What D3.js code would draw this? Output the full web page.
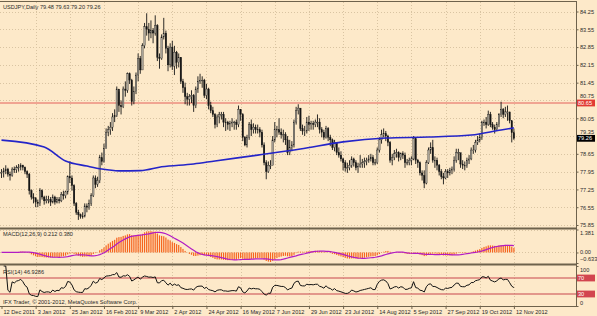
<!DOCTYPE html>
<html lang="en">
<head>
<meta charset="UTF-8">
<title>USDJPY Daily</title>
<style>
  * { margin: 0; padding: 0; }
  body { background: #fde9c9; }
  svg text { font-family: "Liberation Sans", Arial, sans-serif; }
</style>
</head>
<body>
<div id="chart"></div>
<script src="https://cdn.jsdelivr.net/npm/d3@7/dist/d3.min.js"></script>
<script>
  // ---- data ----
  const dateLabels = ['12 Dec 2011', '3 Jan 2012', '25 Jan 2012', '16 Feb 2012', '9 Mar 2012', '2 Apr 2012',
    '24 Apr 2012', '16 May 2012', '7 Jun 2012', '29 Jun 2012', '23 Jul 2012', '14 Aug 2012',
    '5 Sep 2012', '27 Sep 2012', '19 Oct 2012', '12 Nov 2012']
  const labelBars = [0, 16, 32, 48, 64, 80, 96, 112, 128, 144, 160, 176, 192, 208, 224, 240]

  const firstOpen = 77.90
  const closes = [
    77.92, 77.98, 78.05, 77.85, 77.80, 78.05, 78.02, 78.10, 78.13, 78.20, 78.12, 77.95, 77.85, 77.20, 76.95,
    76.90, 76.75, 76.70, 77.20, 76.95, 76.80, 76.85, 76.85, 76.75, 76.95, 76.75, 76.85, 76.80, 77.05, 77.00,
    77.15, 77.75, 77.70, 77.40, 76.70, 76.35, 76.25, 76.20, 76.20, 76.60, 76.55, 76.70, 77.00, 77.70, 77.45,
    77.60, 78.50, 78.35, 78.85, 79.50, 79.60, 79.70, 80.10, 80.15, 81.20, 80.55, 80.50, 81.20, 81.15, 81.80,
    81.55, 80.70, 81.10, 81.75, 82.40, 81.95, 82.90, 83.65, 83.55, 83.40, 83.50, 83.40, 83.70, 82.45, 82.40,
    83.25, 83.40, 82.80, 82.15, 82.85, 82.10, 82.65, 82.25, 82.45, 81.50, 81.25, 80.90, 80.80, 80.90, 80.95,
    80.55, 81.20, 81.50, 81.55, 81.55, 80.95, 81.20, 80.55, 80.35, 80.20, 79.80, 80.10, 80.20, 80.20, 79.90,
    79.90, 79.80, 79.85, 79.90, 79.90, 79.80, 80.40, 80.20, 79.30, 79.00, 79.30, 79.80, 79.60, 79.70, 79.60,
    79.60, 79.50, 79.00, 78.30, 77.95, 78.20, 78.20, 79.20, 79.60, 79.60, 79.50, 79.40, 79.40, 79.20, 78.70,
    78.90, 79.00, 79.90, 80.35, 80.45, 79.65, 79.55, 79.55, 79.90, 79.80, 79.85, 79.80, 79.90, 79.90, 79.60,
    79.50, 79.30, 79.65, 79.30, 79.20, 78.90, 79.10, 78.70, 78.60, 78.45, 78.30, 78.10, 78.10, 78.20, 78.45,
    78.30, 78.10, 78.15, 78.25, 78.30, 78.35, 78.40, 78.45, 78.50, 78.30, 78.30, 78.80, 79.20, 79.40, 79.45,
    79.35, 79.10, 78.40, 78.50, 78.65, 78.70, 78.50, 78.65, 78.60, 78.30, 78.30, 78.40, 78.45, 79.25, 78.40,
    78.30, 77.90, 77.80, 77.50, 78.30, 78.80, 78.90, 78.40, 78.40, 78.20, 77.95, 77.75, 77.70, 77.95, 77.90,
    78.00, 78.05, 78.40, 78.70, 78.70, 78.25, 78.20, 78.20, 78.40, 78.45, 78.80, 78.80, 79.10, 79.20, 79.30,
    79.90, 79.90, 79.80, 80.20, 79.80, 79.70, 79.60, 79.80, 80.20, 80.40, 80.20, 80.30, 80.30, 79.95, 79.48,
    79.26]
  const highs = [
    78.05, 78.10, 78.20, 78.10, 77.95, 78.12, 78.15, 78.20, 78.25, 78.28, 78.22, 78.15, 78.00, 77.90, 77.25,
    77.10, 76.95, 76.85, 77.30, 77.25, 77.00, 77.00, 77.00, 76.95, 77.05, 77.00, 76.95, 76.95, 77.15, 77.20,
    77.20, 77.80, 78.35, 77.80, 77.45, 76.75, 76.45, 76.30, 76.35, 76.70, 76.70, 76.85, 77.10, 77.80, 77.80,
    77.75, 78.60, 78.70, 79.05, 79.65, 79.75, 79.90, 80.25, 80.40, 81.30, 81.10, 80.75, 81.30, 81.50, 81.85,
    81.85, 81.60, 81.30, 81.85, 82.60, 82.50, 83.00, 83.80, 84.18, 83.80, 83.90, 83.60, 84.10, 83.75, 82.60,
    83.35, 84.00, 83.50, 82.90, 83.00, 83.10, 82.90, 82.70, 82.60, 82.45, 81.60, 81.45, 81.05, 81.00, 81.15,
    81.00, 81.30, 81.70, 81.80, 81.70, 81.60, 81.40, 81.25, 80.70, 80.50, 80.25, 80.20, 80.30, 80.30, 80.30,
    80.05, 79.95, 79.95, 80.05, 79.95, 80.00, 80.55, 80.40, 80.25, 79.35, 79.40, 79.90, 80.00, 79.85, 79.80,
    79.80, 79.70, 79.60, 79.10, 78.40, 78.35, 78.40, 79.35, 79.90, 79.75, 80.05, 79.65, 79.60, 79.50, 79.35,
    79.20, 79.15, 80.00, 80.50, 80.60, 80.45, 79.80, 79.75, 80.10, 80.15, 79.95, 79.95, 80.00, 80.20, 80.05,
    79.70, 79.60, 79.75, 79.70, 79.40, 79.25, 79.20, 79.10, 78.90, 78.75, 78.50, 78.40, 78.30, 78.40, 78.55,
    78.50, 78.40, 78.30, 78.60, 78.45, 78.50, 78.50, 78.60, 78.65, 78.60, 78.45, 78.90, 79.30, 79.60, 79.65,
    79.55, 79.40, 79.15, 78.65, 78.80, 78.85, 78.75, 78.70, 78.75, 78.70, 78.45, 78.50, 78.55, 79.35, 79.25,
    78.45, 78.35, 78.00, 78.00, 78.40, 78.90, 79.10, 79.20, 78.55, 78.50, 78.25, 78.05, 77.90, 78.05, 78.05,
    78.10, 78.15, 78.55, 78.85, 78.85, 78.60, 78.40, 78.35, 78.50, 78.60, 78.90, 79.00, 79.20, 79.35, 79.45,
    79.95, 80.00, 80.10, 80.35, 80.30, 79.90, 79.80, 79.90, 80.25, 80.70, 80.45, 80.50, 80.55, 80.30, 79.95,
    79.63]
  const lows = [
    77.70, 77.72, 77.85, 77.75, 77.60, 77.75, 77.90, 77.90, 77.95, 78.00, 78.00, 77.85, 77.70, 77.05, 76.85,
    76.70, 76.55, 76.55, 76.60, 76.85, 76.65, 76.70, 76.70, 76.60, 76.70, 76.65, 76.70, 76.70, 76.75, 76.85,
    76.90, 77.05, 77.50, 77.20, 76.60, 76.25, 76.05, 76.10, 76.10, 76.15, 76.35, 76.45, 76.60, 76.95, 77.30,
    77.35, 77.50, 78.20, 78.30, 78.90, 79.35, 79.40, 79.55, 79.90, 80.10, 80.30, 80.20, 80.45, 80.90, 81.05,
    81.40, 80.55, 80.60, 81.00, 81.50, 81.80, 81.95, 82.80, 83.30, 83.10, 83.20, 83.00, 83.30, 82.30, 82.00,
    82.35, 83.15, 82.60, 81.90, 82.05, 81.95, 81.75, 82.00, 82.05, 81.40, 81.05, 80.60, 80.55, 80.55, 80.65,
    80.30, 80.45, 81.05, 81.40, 81.25, 80.85, 80.80, 80.40, 80.25, 80.10, 79.65, 79.70, 79.85, 80.00, 79.70,
    79.55, 79.60, 79.55, 79.70, 79.60, 79.60, 79.70, 79.95, 79.15, 78.95, 78.90, 79.20, 79.35, 79.45, 79.45,
    79.45, 79.30, 78.90, 78.20, 77.65, 77.90, 78.05, 78.20, 79.10, 79.30, 79.40, 79.25, 79.10, 79.00, 78.60,
    78.60, 78.75, 78.90, 79.80, 80.20, 79.55, 79.40, 79.35, 79.45, 79.55, 79.60, 79.60, 79.70, 79.70, 79.45,
    79.30, 79.20, 79.25, 79.15, 78.95, 78.80, 78.75, 78.60, 78.50, 78.35, 78.00, 77.95, 77.90, 78.00, 78.10,
    78.15, 78.00, 77.90, 78.10, 78.10, 78.10, 78.20, 78.30, 78.35, 78.20, 78.20, 78.25, 78.70, 79.05, 79.30,
    79.15, 78.95, 78.30, 78.20, 78.40, 78.50, 78.35, 78.40, 78.45, 78.10, 78.20, 78.20, 78.20, 78.40, 78.25,
    78.10, 77.80, 77.60, 77.30, 77.45, 78.25, 78.65, 78.30, 78.10, 78.00, 77.80, 77.65, 77.45, 77.65, 77.70,
    77.80, 77.85, 77.95, 78.30, 78.40, 78.10, 78.05, 78.00, 78.10, 78.25, 78.40, 78.65, 78.70, 79.00, 79.10,
    79.20, 79.75, 79.65, 79.75, 79.70, 79.60, 79.45, 79.55, 79.70, 80.10, 80.05, 80.10, 79.95, 79.85, 79.10,
    79.20]

  // slow moving average (blue), sampled along the curve
  const maBars = [0, 20, 30, 40, 47, 55, 65, 75, 90, 100, 120, 140, 160, 180, 200, 220, 234, 240]
  const maVals = [79.19, 78.92, 78.37, 78.17, 78.05, 77.98, 77.99, 78.14, 78.25, 78.37, 78.60, 78.84, 79.12,
    79.27, 79.31, 79.39, 79.59, 79.67]

  const priceTicks = [84.25, 83.55, 82.85, 82.15, 81.45, 80.75, 80.05, 79.35, 78.65, 77.95, 77.25, 76.55, 75.85]
  const levelPrice = 80.65
  const lastPrice = 79.26
  const macdTicks = [1.381, 0.00, -0.633]
  const rsiLevels = [70, 30]

  // ---- layout ----
  const W = 597, H = 316
  const PLOT_R = 576
  const MAIN = {TOP: 2, BOTTOM: 228}
  const MACD = {TOP: 229, BOTTOM: 264}
  const RSI = {TOP: 266, BOTTOM: 306}

  const BG = '#fde9c9', FRAME = '#6e624c', GRID = '#d9c4a2', TXT = '#2a2a2a'

  const svg = d3.select('#chart').append('svg')
    .attr('width', W).attr('height', H)
    .style('background-color', BG)

  const n = closes.length
  const opens = [firstOpen].concat(closes.slice(0, n - 1))

  const x = d3.scaleLinear().domain([0, 240]).range([1.5, 1.5 + 240 * 2.135])
  const y = d3.scaleLinear().domain([75.85, 84.25]).range([225, 11.5])
  const yM = d3.scaleLinear().domain([-0.633, 1.381]).range([263, 229.5])
  const yR = d3.scaleLinear().domain([0, 100]).range([RSI.BOTTOM, RSI.TOP])

  // indicators derived from the closes: MACD(12,26,9) and RSI(14)
  function ema(arr, p) {
    const k = 2 / (p + 1), out = [arr[0]]
    for (let i = 1; i < arr.length; i++) out.push(arr[i] * k + out[i - 1] * (1 - k))
    return out
  }
  const e12 = ema(closes, 12), e26 = ema(closes, 26)
  const macd = closes.map((d, i) => e12[i] - e26[i])
  const signal = macd.map((d, i) => d3.mean(macd.slice(Math.max(0, i - 8), i + 1)))

  const rsi = [null]
  let ag = 0, al = 0
  for (let i = 1; i < n; i++) {
    const ch = closes[i] - closes[i - 1]
    const gn = Math.max(ch, 0), ls = Math.max(-ch, 0)
    if (i <= 14) {
      ag = (ag * (i - 1) + gn) / i
      al = (al * (i - 1) + ls) / i
    } else {
      ag = (ag * 13 + gn) / 14
      al = (al * 13 + ls) / 14
    }
    rsi.push(al === 0 ? 100 : 100 - 100 / (1 + ag / al))
  }

  // ---- grid ----
  const grid = svg.append('g').attr('stroke', GRID).attr('stroke-dasharray', '1,2').attr('stroke-width', 1)
  ;[[MAIN.TOP, MAIN.BOTTOM], [MACD.TOP, MACD.BOTTOM], [RSI.TOP, RSI.BOTTOM]].forEach(([t, b]) => {
    grid.selectAll(null).data(labelBars.slice(1)).join('line')
      .attr('x1', d => Math.round(x(d)) + 0.5).attr('x2', d => Math.round(x(d)) + 0.5)
      .attr('y1', t).attr('y2', b)
  })
  grid.selectAll(null).data(priceTicks).join('line')
    .attr('x1', 0).attr('x2', PLOT_R)
    .attr('y1', d => Math.round(y(d)) + 0.5).attr('y2', d => Math.round(y(d)) + 0.5)
  grid.selectAll(null).data([1.381, 0]).join('line')
    .attr('x1', 0).attr('x2', PLOT_R)
    .attr('y1', d => Math.round(yM(d)) + 0.5).attr('y2', d => Math.round(yM(d)) + 0.5)

  // ---- horizontal level line ----
  svg.append('line')
    .attr('x1', 0).attr('x2', PLOT_R)
    .attr('y1', y(levelPrice)).attr('y2', y(levelPrice))
    .attr('stroke', '#e4605a').attr('stroke-width', 1)

  // ---- candles ----
  const candles = svg.append('g')
  const bars = d3.range(n)
  candles.selectAll('line').data(bars).join('line')
    .attr('x1', i => x(i)).attr('x2', i => x(i))
    .attr('y1', i => y(highs[i])).attr('y2', i => y(lows[i]))
    .attr('stroke', '#151515').attr('stroke-width', 0.9)
  candles.selectAll('rect').data(bars).join('rect')
    .attr('x', i => x(i) - 0.75).attr('width', 1.5)
    .attr('y', i => y(Math.max(opens[i], closes[i])))
    .attr('height', i => Math.max(0.8, Math.abs(y(opens[i]) - y(closes[i]))))
    .attr('fill', i => closes[i] >= opens[i] ? '#a9a398' : '#151515')
    .attr('stroke', '#151515').attr('stroke-width', 0.3)

  // ---- moving average ----
  svg.append('path')
    .datum(maBars.map((b, i) => [b, maVals[i]]))
    .attr('fill', 'none').attr('stroke', '#2424c8').attr('stroke-width', 1.6)
    .attr('d', d3.line().x(d => x(d[0])).y(d => y(d[1])).curve(d3.curveMonotoneX))

  // ---- MACD ----
  svg.append('g').selectAll('rect').data(bars).join('rect')
    .attr('x', i => x(i) - 0.6).attr('width', 1.2)
    .attr('y', i => Math.min(yM(0), yM(macd[i])))
    .attr('height', i => Math.abs(yM(macd[i]) - yM(0)))
    .attr('fill', '#f5641e')
  svg.append('path')
    .datum(bars)
    .attr('fill', 'none').attr('stroke', '#b21cc4').attr('stroke-width', 1.2)
    .attr('d', d3.line().x(i => x(i)).y(i => yM(signal[i])))

  // ---- RSI ----
  svg.append('g').selectAll('line').data(rsiLevels).join('line')
    .attr('x1', 0).attr('x2', PLOT_R)
    .attr('y1', d => yR(d)).attr('y2', d => yR(d))
    .attr('stroke', '#c8464e').attr('stroke-width', 1.2)
  svg.append('path')
    .datum(bars.slice(1))
    .attr('fill', 'none').attr('stroke', '#111').attr('stroke-width', 1)
    .attr('d', d3.line().x(i => x(i)).y(i => yR(rsi[i])))

  // ---- frame ----
  const frame = svg.append('g').attr('stroke', FRAME)
  frame.append('line').attr('x1', 0).attr('x2', PLOT_R + 0.5).attr('y1', 1.5).attr('y2', 1.5).attr('stroke-width', 1)
  frame.append('line').attr('x1', 0).attr('x2', PLOT_R + 0.5).attr('y1', MAIN.BOTTOM + 0.5).attr('y2', MAIN.BOTTOM + 0.5).attr('stroke-width', 2)
  frame.append('line').attr('x1', 0).attr('x2', PLOT_R + 0.5).attr('y1', MACD.BOTTOM + 0.5).attr('y2', MACD.BOTTOM + 0.5).attr('stroke-width', 2)
  frame.append('line').attr('x1', 0).attr('x2', PLOT_R + 0.5).attr('y1', RSI.BOTTOM + 0.5).attr('y2', RSI.BOTTOM + 0.5).attr('stroke-width', 1)
  frame.append('line').attr('x1', PLOT_R + 0.5).attr('x2', PLOT_R + 0.5).attr('y1', 1).attr('y2', RSI.BOTTOM + 1).attr('stroke-width', 1)

  // ---- axes ----
  const fontSize = '5.6px'
  const styleAxis = g => {
    g.select('.domain').remove()
    g.selectAll('.tick line').attr('stroke', FRAME)
    g.selectAll('.tick text').attr('fill', TXT).style('font-size', fontSize)
      .style('font-family', '"Liberation Sans", Arial, sans-serif')
  }

  // tick labels that sit right under a price tag are lifted just above it
  const tagVals = [levelPrice, lastPrice]
  svg.append('g').attr('transform', `translate(${PLOT_R + 0.5},0)`)
    .call(d3.axisRight(y).tickValues(priceTicks).tickFormat(d3.format('.2f')).tickSize(2).tickPadding(1.5))
    .call(styleAxis)
    .call(g => g.selectAll('.tick text')
      .attr('y', d => tagVals.some(v => Math.abs(v - d) < 0.15) ? -4.6 : 0))

  svg.append('g').attr('transform', `translate(${PLOT_R + 0.5},0)`)
    .call(d3.axisRight(yM).tickValues(macdTicks).tickFormat(d => d === 0 ? '0.00' : d3.format('.3f')(d)).tickSize(2).tickPadding(1.5))
    .call(styleAxis)
    .call(g => g.selectAll('.tick text').attr('dy', d => d > 1 ? '0.9em' : d < 0 ? '-0.5em' : '0.1em'))

  svg.append('g').attr('transform', `translate(${PLOT_R + 0.5},0)`)
    .call(d3.axisRight(yR).tickValues([100, 0]).tickSize(2).tickPadding(1.5))
    .call(styleAxis)
    .call(g => g.selectAll('.tick text').attr('dy', d => d === 100 ? '0.9em' : '-0.2em'))

  svg.append('g').attr('transform', `translate(0,${RSI.BOTTOM + 1})`)
    .call(d3.axisBottom(x).tickValues(labelBars).tickFormat((d, i) => dateLabels[i]).tickSize(2).tickPadding(1))
    .call(styleAxis)
    .call(g => g.selectAll('.tick text').attr('text-anchor', 'start').attr('x', 1.5))

  // ---- price labels on the axis ----
  const tag = (val, scale, bg, txt) => {
    const g = svg.append('g').attr('transform', `translate(${PLOT_R + 1},${scale(val)})`)
    g.append('rect').attr('x', 0).attr('y', -3.4).attr('width', val > 10 ? 18 : 8).attr('height', 6.8).attr('fill', bg)
    g.append('text').attr('x', 1).attr('y', 2).attr('fill', '#fff').style('font-size', fontSize).text(txt)
  }
  tag(levelPrice, y, '#e23b34', levelPrice.toFixed(2))
  tag(lastPrice, y, '#000', lastPrice.toFixed(2))
  rsiLevels.forEach(l => tag(l, yR, '#d2454f', String(l)))

  // ---- titles ----
  const title = (tx, ty) => svg.append('text').attr('x', 3).attr('y', ty)
    .attr('fill', TXT).style('font-size', fontSize).text(tx)
  title(`USDJPY,Daily  ${opens[n - 1].toFixed(2)} ${highs[n - 1].toFixed(2)} ${lows[n - 1].toFixed(2)} ${closes[n - 1].toFixed(2)}`, 8.5)
  title('MACD(12,26,9) 0.212 0.380', 235.5)
  title('RSI(14) 46.9286', 274)
  title('IFX Trader, © 2001-2012, MetaQuotes Software Corp.', 304)
</script>
</body>
</html>
